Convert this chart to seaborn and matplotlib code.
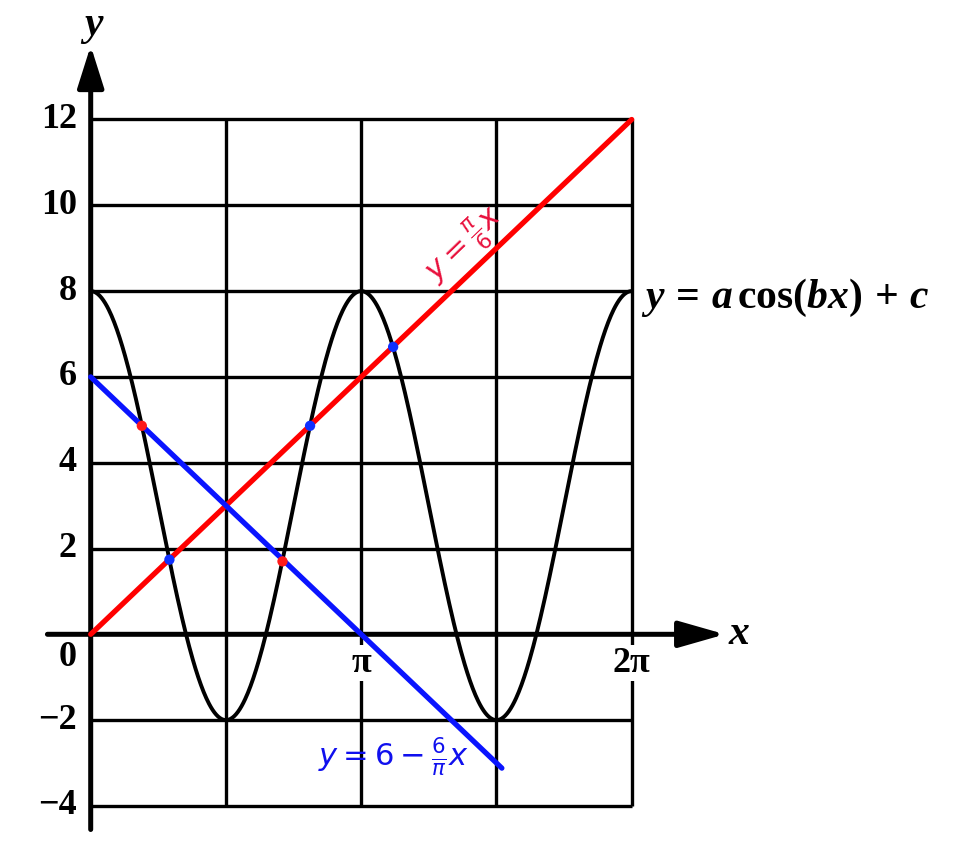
import numpy as np
import pandas as pd
import matplotlib
matplotlib.use("Agg")
import matplotlib.pyplot as plt
import seaborn as sns

# ---- data ----
PI = np.pi
a, b, c = 5, 2, 3                  # y = a cos(bx) + c
red_slope, red_icept = 6 / PI, 0   # y = (pi/6)... drawn as y = 6x/pi
blue_slope, blue_icept = -6 / PI, 6
red_x_range = [0, 2 * PI]
blue_x_range = [0, 1.52 * PI]
# intersection dots (x in units of pi, y)
red_dots_x = [0.189, 0.709]
red_dots_y = [4.86, 1.70]
blue_dots_x = [0.291, 0.811, 1.118]
blue_dots_y = [1.74, 4.86, 6.70]
y_ticks = [-4, -2, 2, 4, 6, 8, 10, 12]
x_grid = [0, 0.5, 1, 1.5, 2]       # units of pi
x_tick_vals = [1, 2]
x_tick_labels = [r"π", r"2π"]

sns.set_theme(style="white")
plt.rcParams["font.family"] = ["Liberation Serif", "DejaVu Serif"]
plt.rcParams["text.color"] = "black"
plt.rcParams["mathtext.fontset"] = "custom"
plt.rcParams["mathtext.rm"] = "Liberation Serif:bold"
plt.rcParams["mathtext.it"] = "Liberation Serif:italic:bold"
plt.rcParams["mathtext.bf"] = "Liberation Serif:bold"

fig = plt.figure(figsize=(9.54, 8.55), dpi=100)
ax = fig.add_axes([0, 0, 1, 1])
ax.set_facecolor("white")

x0px, xs = 90.7, 270.5 / PI
y0px, ys = 634.3, 42.9
ax.set_xlim(-x0px / xs, (954 - x0px) / xs)
ax.set_ylim((y0px - 855) / ys, y0px / ys)
ax.axis("off")

# grid
gx = [g * PI for g in x_grid]
ax.vlines(gx[1:], -4, 12, color="black", lw=2.4, zorder=1)
ax.hlines(y_ticks, 0, 2 * PI, color="black", lw=2.4, zorder=1)

# axes with arrows
ax.annotate("", xy=(0, 13.72), xytext=(0, -4.55),
            arrowprops=dict(arrowstyle="-|>,head_length=0.95,head_width=0.3",
                            lw=3.6, color="black", shrinkA=0, shrinkB=0,
                            mutation_scale=27), zorder=2)
ax.annotate("", xy=(2.345 * PI, 0), xytext=(-0.16 * PI, 0),
            arrowprops=dict(arrowstyle="-|>,head_length=1.05,head_width=0.3",
                            lw=3.6, color="black", shrinkA=0, shrinkB=0,
                            mutation_scale=27), zorder=2)

# curves
xc = np.linspace(0, 2 * PI, 600)
cos_df = pd.DataFrame({"x": xc, "y": a * np.cos(b * xc) + c})
sns.lineplot(data=cos_df, x="x", y="y", color="black", lw=2.8, ax=ax,
             zorder=3, sort=False)

red_df = pd.DataFrame({"x": red_x_range,
                       "y": [red_slope * v + red_icept for v in red_x_range]})
blue_df = pd.DataFrame({"x": blue_x_range,
                        "y": [blue_slope * v + blue_icept for v in blue_x_range]})
sns.lineplot(data=red_df, x="x", y="y", color="#ff0000", lw=3.8, ax=ax, zorder=4)
sns.lineplot(data=blue_df, x="x", y="y", color="#0a14ff", lw=3.8, ax=ax, zorder=4)

sns.scatterplot(x=[v * PI for v in red_dots_x], y=red_dots_y, color="#ff1a1a",
                s=55, edgecolor="none", ax=ax, zorder=6)
sns.scatterplot(x=[v * PI for v in blue_dots_x], y=blue_dots_y, color="#1030ff",
                s=55, edgecolor="none", ax=ax, zorder=6)
ax.set_xlabel("")
ax.set_ylabel("")

# tick labels
bb = dict(facecolor="white", edgecolor="none", pad=1)
xr = (77 - x0px) / xs
for yt in y_ticks:
    ax.text(xr, yt, "−" + str(-yt) if yt < 0 else str(yt), ha="right", va="center",
            fontsize=26, fontweight="bold", zorder=5)
ax.text(xr, -0.53, "0", ha="right", va="center", fontsize=26,
        fontweight="bold", zorder=5)
for xv, lab in zip(x_tick_vals, x_tick_labels):
    ax.text(xv * PI, -0.67, lab, ha="center", va="center", fontsize=26,
            fontweight="bold", zorder=2.5, bbox=bb)

# axis labels
ax.text(0.01 * PI, 14.2, "y", ha="center", va="center", fontsize=30,
        fontweight="bold", style="italic", zorder=5)
ax.text(2.395 * PI, 0.0, "x", ha="center", va="center", fontsize=30,
        fontweight="bold", style="italic", zorder=5)

# equation labels
ax.text(2.035 * PI, 7.85, r"$y\,=\,a\,\cos(bx)\,+\,c$", ha="left", va="center",
        fontsize=30, zorder=5)
ax.text(1.384 * PI, 9.07, r"$y=\frac{\pi}{6}x$", ha="center", va="center",
        fontsize=22, color="#e8103c", rotation=44, math_fontfamily="dejavusans",
        zorder=5)
ax.text(1.118 * PI, -2.86, r"$y=6-\frac{6}{\pi}x$", ha="center", va="center",
        fontsize=22, color="#1010ee", math_fontfamily="dejavusans", zorder=5)

fig.savefig("out.png", dpi=100)
